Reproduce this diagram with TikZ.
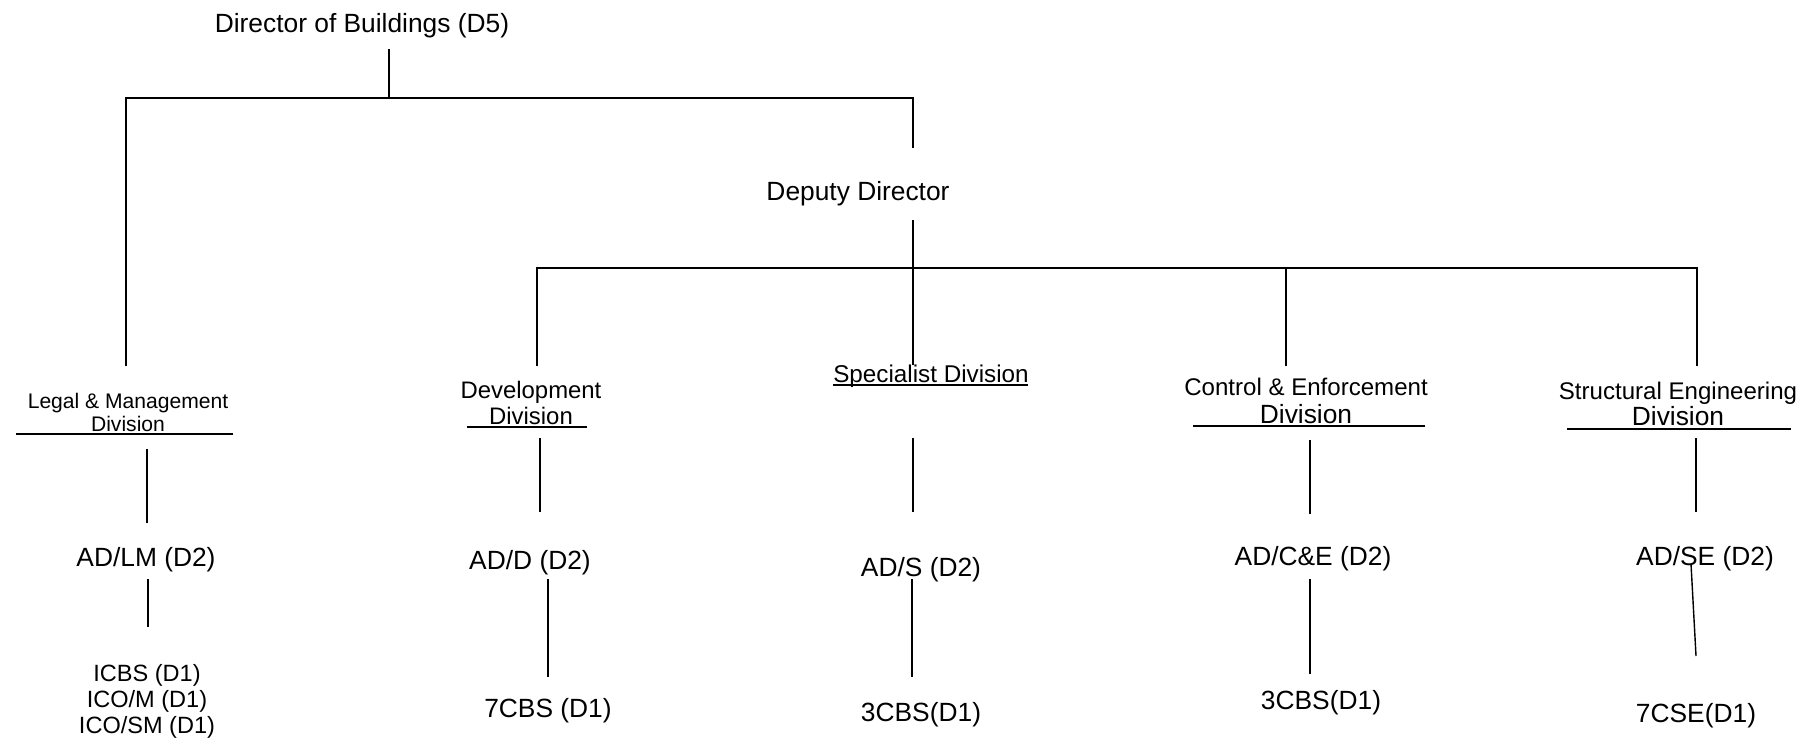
\documentclass[tikz,border=0pt]{standalone}
\usepackage{fontspec}
\setmainfont{Liberation Sans}
\usetikzlibrary{calc}

\begin{document}
\begin{tikzpicture}[x=0.02cm, y=-0.02cm,
  post/.style={inner sep=0pt, text height=14.4pt, text depth=3.2pt, font=\fontsize{15}{17}\selectfont},
  division/.style={inner sep=0pt, align=center, font=\fontsize{13.7}{15.6}\selectfont},
  staff/.style={inner sep=0pt, align=center, font=\fontsize{13.4}{14.8}\selectfont},
  link/.style={line width=0.8pt},
  uline/.style={line width=0.9pt}]
\useasboundingbox (0,0) rectangle (1814,739);

% Director and deputy
\node[post] (dob) at (362,23) {Director of Buildings (D5)};
\node[post] (dd) at (858,191) {Deputy Director};
\coordinate (bus1) at (389,98);
\coordinate (bus2) at (913,268);

% Divisions
\node[division, font=\fontsize{12}{13.1}\selectfont] (lmd) at (128,412) {Legal \& Management\\Division};
\node[division, font=\fontsize{13.6}{14.6}\selectfont] (devd) at (531,403) {Development\\Division};
\node[division, font=\fontsize{13.8}{15.6}\selectfont] (spd) at (931,376) {Specialist Division};
\node[division, font=\fontsize{13.7}{16}\selectfont] (ced) at (1306,401) {Control \& Enforcement\\{\fontsize{15}{16}\selectfont Division}};
\node[division, font=\fontsize{13.7}{14.8}\selectfont] (sed) at (1678,404) {Structural Engineering\\{\fontsize{15}{14.8}\selectfont Division}};

% underlines
\draw[uline] ($(lmd)+(-112,22)$) -- ++(217,0);
\draw[uline] ($(devd)+(-64,24)$) -- ++(120,0);
\draw[line width=0.7pt] ($(spd)+(-98,9)$) -- ++(195,0);
\draw[uline] ($(ced)+(-113,25)$) -- ++(232,0);
\draw[uline] ($(sed)+(-111,25)$) -- ++(224,0);

% Assistant directors
\node[post] (adlm) at (146,557) {AD/LM (D2)};
\node[post] (add) at (530,560) {AD/D (D2)};
\node[post] (ads) at (921,567) {AD/S (D2)};
\node[post] (adce) at (1313,556) {AD/C\&E (D2)};
\node[post] (adse) at (1705,556) {AD/SE (D2)};

% Chiefs
\node[staff] (lmstaff) at (147,701) {ICBS (D1)\\ICO/M (D1)\\ICO/SM (D1)};
\node[post] (dstaff) at (548,708) {7CBS (D1)};
\node[post] (sstaff) at (921,712) {3CBS(D1)};
\node[post] (cestaff) at (1321,700) {3CBS(D1)};
\node[post] (sestaff) at (1696,713) {7CSE(D1)};

% upper links
\draw[link] ($(dob)+(27,26)$) -- (bus1);
\draw[link] ($(lmd)+(-2,-46)$) |- (bus1) -| ($(dd)+(55,-43)$);
\draw[link] ($(dd)+(55,29)$) -- ($(spd)+(-18,-11)$);
\draw[link] ($(devd)+(6,-37)$) |- (bus2) -| ($(sed)+(19,-38)$);
\draw[link] ($(ced)+(-20,-35)$) -- ++(0,-98);

% division to AD
\draw[link] ($(lmd)+(19,37)$) -- ($(adlm)+(1,-34)$);
\draw[link] ($(devd)+(9,35)$) -- ($(add)+(10,-48)$);
\draw[link] ($(spd)+(-18,62)$) -- ($(ads)+(-8,-55)$);
\draw[link] ($(ced)+(4,39)$) -- ($(adce)+(-3,-42)$);
\draw[link] ($(sed)+(18,34)$) -- ($(adse)+(-9,-44)$);

% AD to chiefs
\draw[link] ($(adlm)+(2,22)$) -- ($(lmstaff)+(1,-74)$);
\draw[link] ($(add)+(18,19)$) -- ($(dstaff)+(0,-31)$);
\draw[link] ($(ads)+(-9,12)$) -- ($(sstaff)+(-9,-35)$);
\draw[link] ($(adce)+(-3,23)$) -- ($(cestaff)+(-11,-26)$);
\draw[link] ($(adse)+(-14,8)$) -- ($(sestaff)+(0,-57)$);
\end{tikzpicture}
\end{document}
